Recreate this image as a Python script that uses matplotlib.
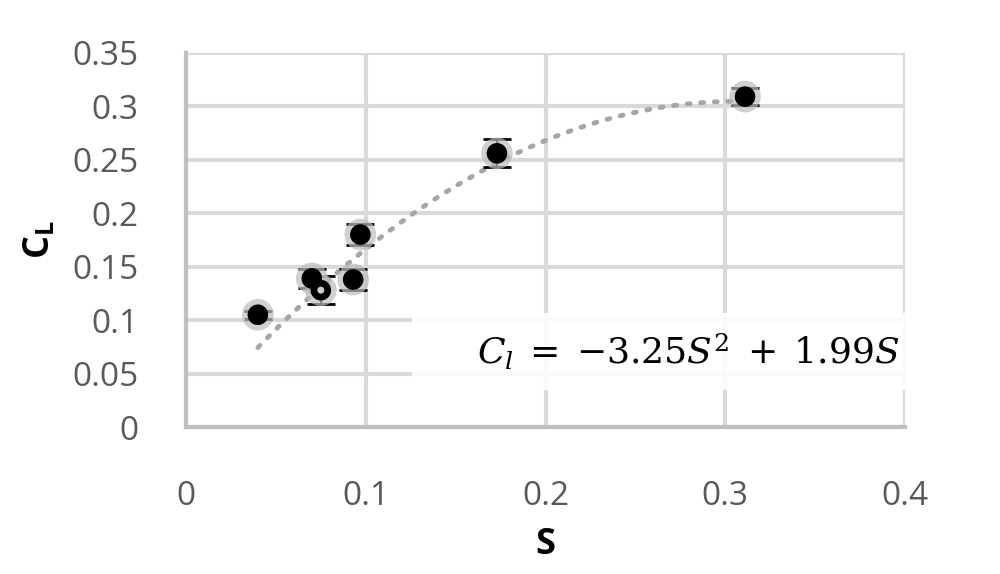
import numpy as np
import matplotlib.pyplot as plt

# measured points (S, C_L) and error bar half-heights
S = [0.040, 0.070, 0.075, 0.093, 0.097, 0.173, 0.311]
CL = [0.105, 0.139, 0.128, 0.138, 0.180, 0.256, 0.309]
err = [0.004, 0.009, 0.013, 0.010, 0.010, 0.013, 0.008]

# trendline shown on the chart
a2, a1 = -3.25, 1.99

xticks = [0, 0.1, 0.2, 0.3, 0.4]
yticks = [0, 0.05, 0.1, 0.15, 0.2, 0.25, 0.3, 0.35]
xlabels = ['0', '0.1', '0.2', '0.3', '0.4']
ylabels = ['0', '0.05', '0.1', '0.15', '0.2', '0.25', '0.3', '0.35']

plt.rcParams['font.family'] = ['Open Sans', 'DejaVu Sans']
plt.rcParams['mathtext.fontset'] = 'dejavuserif'

fig = plt.figure(figsize=(10, 5.74), dpi=100)
ax = fig.add_axes([0.186, 0.256, 0.719, 0.652])

grid_c = '#d9d9d9'
for v in xticks:
    ax.axvline(v, color=grid_c, lw=3, zorder=0)
for v in yticks:
    ax.axhline(v, color=grid_c, lw=3, zorder=0)

xs = np.linspace(S[0], S[-1], 60)
ax.plot(xs, a2 * xs**2 + a1 * xs, linestyle=(0, (0.6, 2.2)), color='#a6a6a6',
        lw=3.5, dash_capstyle='round', zorder=2)

ax.errorbar(S, CL, yerr=err, fmt='none', ecolor='black', elinewidth=1.5,
            capsize=10, capthick=2, zorder=3)
ax.scatter(S, CL, s=520, color='#bdbdbd', alpha=0.7, edgecolors='none', zorder=4)
ax.scatter(S, CL, s=220, color='black', edgecolors='none', zorder=5)
ax.scatter([S[2]], [CL[2]], s=25, color='#d0d0d0', edgecolors='none', zorder=6)

# white box behind the equation
ax.add_patch(plt.Rectangle((0.126, 0.035), 0.274, 0.072, facecolor='white',
                           edgecolor='none', alpha=0.88, zorder=1))
ax.text(0.397, 0.069, r'$C_l\;=\;{-}3.25S^2\;+\;1.99S$', fontsize=26,
        ha='right', va='center', color='black', zorder=7)

ax.set_xlim(0, 0.4)
ax.set_ylim(0, 0.35)
ax.set_xticks(xticks)
ax.set_xticklabels(xlabels)
ax.set_yticks(yticks)
ax.set_yticklabels(ylabels)
ax.tick_params(length=0, labelsize=24, labelcolor='#595959')
ax.tick_params(axis='x', pad=38)
ax.tick_params(axis='y', pad=34)

for side in ['top', 'right']:
    ax.spines[side].set_visible(False)
ax.spines['left'].set_color('#bfbfbf')
ax.spines['bottom'].set_color('#bfbfbf')
ax.spines['left'].set_linewidth(3)
ax.spines['bottom'].set_linewidth(3)

ax.set_xlabel('S', fontsize=26, fontweight='bold', labelpad=10)
ax.set_ylabel(r'C$_\mathregular{L}$', fontsize=26, fontweight='bold', labelpad=10)

fig.savefig('out.png', dpi=100, facecolor='white')
